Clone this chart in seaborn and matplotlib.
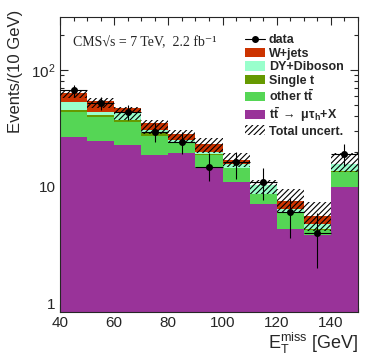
import numpy as np
import pandas as pd
import matplotlib
matplotlib.use("Agg")
import matplotlib.pyplot as plt
import seaborn as sns
from matplotlib.patches import Patch
from matplotlib.lines import Line2D
from matplotlib.ticker import FixedLocator, FixedFormatter, MultipleLocator, LogLocator, NullFormatter

# ---------------- data ----------------
bin_edges = [40, 50, 60, 70, 80, 90, 100, 110, 120, 130, 140, 150]
bin_centers = [45, 55, 65, 75, 85, 95, 105, 115, 125, 135, 145]

sig_ttmutau = [26.7, 24.7, 22.7, 18.6, 19.4, 14.3, 11.0, 7.16, 4.29, 3.83, 9.9]
other_tt    = [17.2, 15.1, 12.8, 8.7, 4.1, 4.3, 3.3, 1.44, 1.66, 0.40, 3.5]
single_t    = [1.5, 1.3, 1.8, 1.3, 0.5, 0.3, 0.2, 0.10, 0.10, 0.10, 0.1]
dy_diboson  = [8.1, 2.8, 5.2, 1.9, 1.3, 0.8, 1.0, 1.60, 0.42, 0.43, 2.0]
w_jets      = [9.5, 10.6, 4.4, 4.3, 2.7, 3.3, 1.3, 0.05, 1.03, 0.82, 0.2]

unc_hi = [67.0, 57.0, 48.4, 37.0, 30.3, 25.9, 19.5, 11.3, 9.6, 7.4, 19.3]
unc_lo = [57.0, 47.0, 37.3, 28.0, 23.5, 19.5, 14.8, 8.6, 6.1, 4.2, 13.4]

data_y   = [67.0, 52.0, 44.0, 29.5, 24.2, 14.8, 16.1, 11.0, 6.0, 4.0, 18.9]
data_elo = [8.0, 7.0, 6.5, 5.5, 5.0, 3.7, 4.4, 3.4, 2.4, 2.0, 4.0]
data_ehi = [8.0, 7.0, 6.5, 5.5, 5.0, 4.5, 3.8, 3.3, 2.0, 1.9, 4.2]

proc_names = ["W+jets", "DY+Diboson", "Single t", "other tt", "signal"]
proc_colors = ["#cc3300", "#99ffcc", "#669900", "#55d655", "#993399"]
proc_values = [w_jets, dy_diboson, single_t, other_tt, sig_ttmutau]
legend_labels = ["W+jets", "DY+Diboson", "Single t",
                 r"other $\mathbf{t\bar{t}}$",
                 r"$\mathbf{t\bar{t}}$ $\rightarrow$ $\mathbf{\mu\tau_h}$+X"]

# ---------------- style ----------------
sns.set_style("ticks")
plt.rcParams["font.family"] = ["Liberation Sans", "DejaVu Sans"]
plt.rcParams["mathtext.fontset"] = "custom"
plt.rcParams["mathtext.rm"] = "Liberation Sans"
plt.rcParams["mathtext.it"] = "Liberation Sans:italic"
plt.rcParams["mathtext.bf"] = "Liberation Sans:bold"
plt.rcParams["hatch.linewidth"] = 0.8

rows = []
for name, vals in zip(proc_names, proc_values):
    for c, v in zip(bin_centers, vals):
        rows.append({"met": c, "w": v, "proc": name})
df = pd.DataFrame(rows)

fig = plt.figure(figsize=(3.74, 3.59), dpi=100)
ax = fig.add_axes([60/374, 47/359, 298/374, 295/359])

sns.histplot(data=df, x="met", weights="w", hue="proc", hue_order=proc_names,
             palette=dict(zip(proc_names, proc_colors)), multiple="stack",
             bins=bin_edges, element="bars", linewidth=0, alpha=1.0,
             legend=False, ax=ax)
ax.set_yscale("log")

# uncertainty band
ax.bar(bin_centers, np.array(unc_hi) - np.array(unc_lo), bottom=unc_lo, width=10,
       fill=False, hatch="//////", edgecolor="black", linewidth=0, zorder=3)

# data
ax.errorbar(bin_centers, data_y, yerr=[data_elo, data_ehi], xerr=5,
            fmt="o", color="black", markersize=4.0, elinewidth=0.8,
            capsize=0, zorder=5)

ax.set_xlim(40, 150)
ax.set_ylim(0.84, 285)

ax.xaxis.set_major_locator(MultipleLocator(20))
ax.xaxis.set_minor_locator(MultipleLocator(5))
ax.yaxis.set_major_locator(FixedLocator([1, 10, 100]))
ax.yaxis.set_major_formatter(FixedFormatter(["1", "10", r"$10^{2}$"]))
ax.yaxis.set_minor_locator(LogLocator(base=10, subs=np.arange(2, 10)))
ax.yaxis.set_minor_formatter(NullFormatter())

ax.tick_params(which="both", direction="in", top=True, right=True, width=0.8,
               labelsize=11, pad=3)
ax.tick_params(which="major", length=6)
ax.tick_params(which="minor", length=3)
for s in ax.spines.values():
    s.set_linewidth(0.8)

ax.set_xlabel(r"$\mathrm{E_T^{miss}}$ [GeV]", fontsize=13, loc="right")
ax.xaxis.set_label_coords(1.0, -0.065)
ax.xaxis.label.set_va("top")
ax.set_ylabel("Events/(10 GeV)", fontsize=12, loc="top")
ax.yaxis.set_label_coords(-0.125, 1.025)

ax.text(0.043, 0.912, "CMS\u221As = 7 TeV,  2.2 fb\u207b\u00b9", transform=ax.transAxes,
        fontsize=10, family=["Liberation Serif", "DejaVu Serif"], va="center", ha="left")

handles = [Line2D([0], [0], color="black", marker="o", markersize=4.0, lw=0.8)]
for col in proc_colors:
    handles.append(Patch(facecolor=col, edgecolor="none"))
handles.append(Patch(facecolor="white", edgecolor="black", hatch="//////", linewidth=0))
labels = ["data"] + legend_labels + ["Total uncert."]
leg = ax.legend(handles, labels, loc="upper left", bbox_to_anchor=(0.621, 0.942),
                frameon=False, borderpad=0, borderaxespad=0, handlelength=1.6,
                handleheight=0.8, handletextpad=0.3, labelspacing=0.11,
                prop={"weight": "bold", "size": 9})

fig.savefig("out.png", dpi=100)
